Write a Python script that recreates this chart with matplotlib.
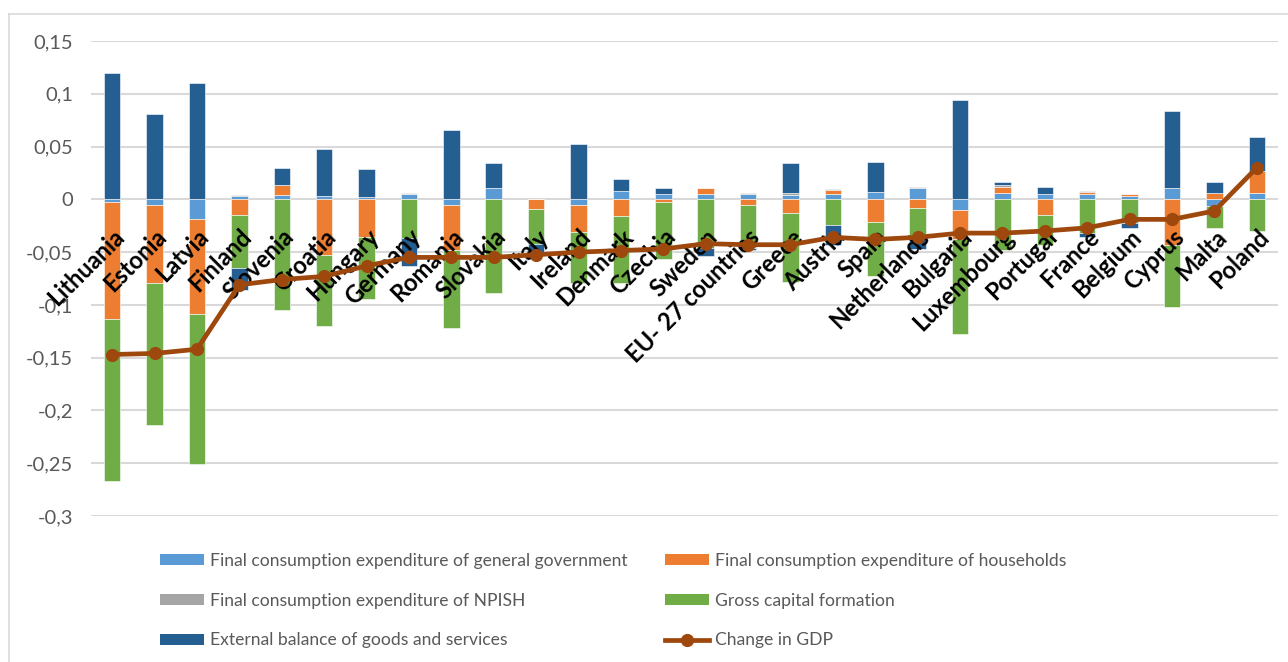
import matplotlib
matplotlib.use("Agg")
import matplotlib.pyplot as plt
from matplotlib.patches import Patch
from matplotlib.lines import Line2D
from matplotlib.ticker import FuncFormatter, MultipleLocator
import numpy as np

countries = ["Lithuania", "Estonia", "Latvia", "Finland", "Slovenia", "Croatia", "Hungary",
             "Germany", "Romania", "Slovakia", "Italy", "Ireland", "Denmark", "Czechia",
             "Sweden", "EU- 27 countries", "Greece", "Austria", "Spain", "Netherlands",
             "Bulgaria", "Luxembourg", "Portugal", "France", "Belgium", "Cyprus", "Malta", "Poland"]

gov = [-0.0025, -0.0057, -0.019, 0.003, 0.004, 0.003, 0.002, 0.005, -0.0057, 0.011, 0.0,
       -0.005, 0.008, 0.005, 0.005, 0.005, 0.004, 0.005, 0.007, 0.011, -0.0104, 0.006,
       0.005, 0.005, 0.0035, 0.0104, -0.006, 0.006]
households = [-0.111, -0.074, -0.090, -0.015, 0.010, -0.053, -0.036, 0.0, -0.042, 0.0, -0.009,
              -0.026, -0.016, -0.0025, 0.0057, -0.0057, -0.0127, 0.004, -0.021, -0.008, -0.027,
              0.0057, -0.015, 0.0015, 0.002, -0.043, 0.0057, 0.021]
npish = [0.0, 0.0, 0.0, 0.001, 0.0, 0.0, 0.0, 0.001, 0.0, 0.0, 0.0, 0.0, 0.0, 0.0, 0.0,
         0.001, 0.0016, 0.0008, 0.0, 0.0005, 0.0, 0.002, 0.0, 0.001, 0.0, 0.0, 0.0, 0.0]
gcf = [-0.153, -0.134, -0.142, -0.050, -0.105, -0.067, -0.058, -0.037, -0.074, -0.089, -0.033,
       -0.048, -0.063, -0.054, -0.046, -0.040, -0.066, -0.024, -0.052, -0.028, -0.090, -0.048,
       -0.028, -0.032, -0.022, -0.059, -0.0215, -0.030]
external = [0.120, 0.0807, 0.110, -0.0205, 0.016, 0.045, 0.027, -0.026, 0.066, 0.023, -0.008,
            0.052, 0.011, 0.0057, -0.008, -0.002, 0.029, -0.019, 0.028, -0.011, 0.094, 0.0025,
            0.0066, -0.004, -0.005, 0.073, 0.0104, 0.032]
gdp_change = [-0.147, -0.146, -0.142, -0.081, -0.076, -0.073, -0.063, -0.055, -0.055, -0.055,
              -0.0525, -0.050, -0.0485, -0.047, -0.042, -0.043, -0.043, -0.036, -0.038, -0.036,
              -0.032, -0.032, -0.030, -0.027, -0.019, -0.019, -0.011, 0.030]

series_names = ["Final consumption expenditure of general government",
                "Final consumption expenditure of households",
                "Final consumption expenditure of NPISH",
                "Gross capital formation",
                "External balance of goods and services"]
line_name = "Change in GDP"
colors = ["#5B9BD5", "#ED7D31", "#A5A5A5", "#70AD47", "#255E91"]
line_color = "#9E480E"
text_color = "#595959"

W, H = 1288, 662
fig = plt.figure(figsize=(W / 100, H / 100), dpi=100)
ax = fig.add_axes([91 / W, (H - 516) / H, (1278 - 91) / W, (516 - 41) / H])

x = np.arange(len(countries))
pos_bottom = np.zeros(len(countries))
neg_bottom = np.zeros(len(countries))
handles = []
for vals, col, name in zip([gov, households, npish, gcf, external], colors, series_names):
    v = np.array(vals)
    bottoms = np.where(v >= 0, pos_bottom, neg_bottom)
    ax.bar(x, v, width=0.39, bottom=bottoms, color=col, edgecolor="white", linewidth=0.4,
           zorder=1, label=name)
    pos_bottom = pos_bottom + np.where(v >= 0, v, 0)
    neg_bottom = neg_bottom + np.where(v < 0, v, 0)
    handles.append(Patch(facecolor=col, edgecolor="none", label=name))

ax.plot(x, gdp_change, color=line_color, linewidth=3.4, marker="o", markersize=8.5,
        zorder=3, label=line_name)
line_handle = Line2D([], [], color=line_color, linewidth=3.4, marker="o", markersize=8.5,
                     label=line_name)

ax.set_xlim(-0.5, len(countries) - 0.5)
ax.set_ylim(-0.3, 0.15)
ax.yaxis.set_major_locator(MultipleLocator(0.05))


def fmt(v, pos):
    s = ("%.2f" % v).rstrip("0").rstrip(".")
    if s in ("-0", ""):
        s = "0"
    return s.replace(".", ",")


ax.yaxis.set_major_formatter(FuncFormatter(fmt))
ax.grid(axis="y", color="#D9D9D9", linewidth=1.5)
ax.set_axisbelow(True)
ax.xaxis.set_zorder(2.5)

for s in ["top", "right", "left"]:
    ax.spines[s].set_visible(False)
ax.spines["bottom"].set_position(("data", 0))
ax.spines["bottom"].set_visible(False)

ax.tick_params(axis="y", length=0, pad=13, labelsize=14.5, labelcolor=text_color)
for lab in ax.get_yticklabels():
    lab.set_fontfamily("Lato")

ax.set_xticks(x)
ax.set_xticklabels(countries, rotation=45, ha="right", va="top", rotation_mode="anchor",
                   fontsize=17, fontweight="bold", fontfamily="Lato", color="black")
ax.tick_params(axis="x", length=0, pad=18.5)

leg_fs = 12.6
fs_px = leg_fs * 100 / 72
common = dict(frameon=False, handlelength=44 / fs_px, handleheight=10 / fs_px,
              handletextpad=6 / fs_px, labelspacing=(40 - fs_px * 0.933) / fs_px, borderpad=0,
              borderaxespad=0, loc="upper left", labelcolor=text_color,
              prop={"family": "Lato", "size": leg_fs})
fig.legend(handles=[handles[0], handles[2], handles[4]],
           bbox_to_anchor=(160 / W, 1 - 553 / H), **common)
fig.legend(handles=[handles[1], handles[3], line_handle],
           bbox_to_anchor=(665.5 / W, 1 - 553 / H), **common)

# chart frame (left and top edges visible)
fig.add_artist(Line2D([9 / W, 9 / W], [0, 1 - 14 / H], transform=fig.transFigure,
                      color="#D9D9D9", linewidth=1.2))
fig.add_artist(Line2D([9 / W, 1], [1 - 14 / H, 1 - 14 / H], transform=fig.transFigure,
                      color="#D9D9D9", linewidth=1.2))

fig.savefig("out.png", dpi=100)
